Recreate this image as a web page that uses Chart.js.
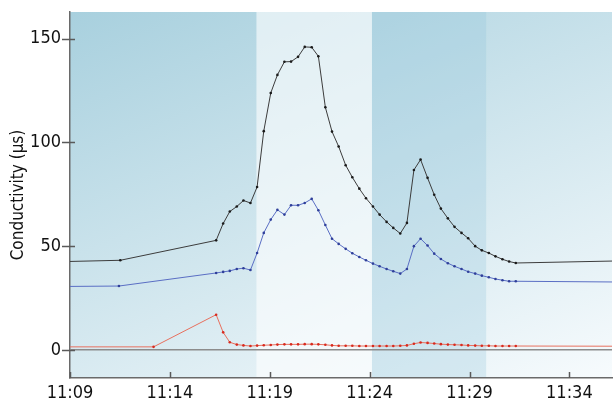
<!DOCTYPE html>
<html><head><meta charset="utf-8">
<script src="https://cdn.jsdelivr.net/npm/chart.js@4.4.1/dist/chart.umd.min.js"></script>
<style>html,body{margin:0;padding:0;background:#fff}canvas{display:block}</style>
</head><body>
<canvas id="c" width="616" height="405"></canvas>
<script>
// ---- data ----
const sampleTimes = ['11:16:19','11:16:40','11:17:00','11:17:21','11:17:41','11:18:02','11:18:22','11:18:42','11:19:03','11:19:23','11:19:44','11:20:04','11:20:25','11:20:45','11:21:06','11:21:26','11:21:47','11:22:07','11:22:27','11:22:48','11:23:08','11:23:29','11:23:49','11:24:10','11:24:30','11:24:51','11:25:11','11:25:32','11:25:52','11:26:13','11:26:33','11:26:54','11:27:14','11:27:34','11:27:55','11:28:15','11:28:36','11:28:56','11:29:17','11:29:37','11:29:58','11:30:18','11:30:39','11:30:59','11:31:19'];
const blackTimes = ['11:08:50','11:11:31'].concat(sampleTimes, ['11:37:00']);
const blackValues = [42.6, 43.2, 52.8, 60.9, 66.7, 69.1, 72.0, 70.8, 78.5, 105.4, 123.8, 132.5, 138.8, 138.9, 141.2, 146.0, 145.8, 141.5, 116.9, 105.2, 98.0, 89.0, 83.2, 77.7, 73.1, 69.1, 65.2, 61.7, 58.8, 56.1, 61.2, 86.7, 91.7, 82.9, 74.8, 68.1, 63.4, 59.3, 56.4, 53.8, 50.0, 48.0, 46.7, 45.1, 43.7, 42.6, 41.9, 43.0];
const blueTimes = ['11:08:50','11:11:27'].concat(sampleTimes, ['11:37:00']);
const blueValues = [30.6, 30.8, 37.1, 37.6, 38.1, 39.0, 39.4, 38.5, 46.7, 56.4, 62.8, 67.5, 65.2, 69.7, 69.7, 70.8, 72.8, 67.3, 60.2, 53.6, 51.1, 48.7, 46.6, 44.8, 43.2, 41.6, 40.3, 39.0, 37.9, 36.8, 39.0, 50.0, 53.6, 50.3, 46.4, 43.8, 41.8, 40.3, 39.0, 37.7, 36.8, 35.8, 35.0, 34.2, 33.6, 33.1, 33.1, 32.7];
const redTimes = ['11:08:50','11:13:11'].concat(sampleTimes, ['11:37:00']);
const redValues = [1.5, 1.5, 17.0, 8.5, 3.7, 2.6, 2.2, 1.9, 2.1, 2.3, 2.4, 2.6, 2.7, 2.7, 2.7, 2.8, 2.8, 2.7, 2.5, 2.2, 2.0, 2.0, 2.0, 1.9, 1.9, 1.9, 1.9, 1.9, 1.9, 2.0, 2.2, 3.0, 3.6, 3.4, 3.1, 2.8, 2.6, 2.5, 2.4, 2.2, 2.1, 2.0, 2.0, 1.9, 1.9, 1.9, 1.9, 1.8];
const xTickLabels = ['11:09','11:14','11:19','11:24','11:29','11:34'];
const yTickValues = [0, 50, 100, 150];
const bandEdges = ['11:18:20','11:24:07','11:29:50'];
const xRange = ['11:09:00','11:36:08'];
const yRange = [-13.5, 162.8];

// ---- helpers ----
function toMin(s){const p=s.split(':').map(Number);return (p[0]-11)*60+p[1]+(p[2]||0)/60;}
function pts(times, vals){return times.map((t,i)=>({x:toMin(t), y:vals[i]}));}

const FONT = "'DejaVu Sans Condensed','DejaVu Sans',sans-serif";

const bgPlugin = {
  id:'bg',
  beforeDraw(chart){
    const {ctx, chartArea:a, scales:{x}} = chart;
    const W=a.right-a.left, H=a.bottom-a.top, al=0.38, be=0.62;
    const D = 1/(al*al/(W*W)+be*be/(H*H));
    const g = ctx.createLinearGradient(a.left, a.top, a.left+al*D/W, a.top+be*D/H);
    g.addColorStop(0,'#a8d0de'); g.addColorStop(1,'#f7fbfd');
    ctx.save();
    ctx.fillStyle=g; ctx.fillRect(a.left,a.top,W,H);
    const e = bandEdges.map(t=>x.getPixelForValue(toMin(t)));
    ctx.fillStyle='rgba(255,255,255,0.6)'; ctx.fillRect(e[0],a.top,e[1]-e[0],H);
    ctx.fillStyle='rgba(140,195,215,0.26)'; ctx.fillRect(e[1],a.top,e[2]-e[1],H);
    ctx.restore();
  },
  afterDraw(chart){
    const {ctx, chartArea:a, scales:{x,y}} = chart;
    ctx.save();
    ctx.strokeStyle='#5a5a5a'; ctx.lineWidth=1.5;
    ctx.beginPath();
    y.ticks.forEach(t=>{const py=Math.round(y.getPixelForValue(t.value))+0.5; ctx.moveTo(a.left-8,py); ctx.lineTo(a.left+5,py);});
    x.ticks.forEach(t=>{const px=Math.round(x.getPixelForValue(t.value))+0.5; ctx.moveTo(px,a.bottom); ctx.lineTo(px,a.bottom-6);});
    ctx.stroke();
    ctx.restore();
  }
};

new Chart(document.getElementById('c'), {
  type:'line',
  data:{datasets:[
    {label:'Total', data:pts(blackTimes,blackValues), borderColor:'#3c3c3c', borderWidth:1, pointRadius:1.3, pointBackgroundColor:'#1a1a1a', pointBorderWidth:0, tension:0},
    {label:'Ch2', data:pts(blueTimes,blueValues), borderColor:'#5a6ec4', borderWidth:1, pointRadius:1.3, pointBackgroundColor:'#2f3f9a', pointBorderWidth:0, tension:0},
    {label:'Ch3', data:pts(redTimes,redValues), borderColor:'#e8705e', borderWidth:1, pointRadius:1.3, pointBackgroundColor:'#d82a1e', pointBorderWidth:0, tension:0}
  ]},
  options:{
    responsive:false, animation:false, events:[],
    layout:{padding:{top:12,right:0,left:0,bottom:0}},
    plugins:{legend:{display:false}, tooltip:{enabled:false}},
    scales:{
      x:{type:'linear', min:toMin(xRange[0]), max:toMin(xRange[1]),
        afterBuildTicks:s=>{s.ticks=xTickLabels.map(l=>({value:toMin(l)}));},
        afterFit:s=>{s.height=27; s.paddingRight=0;},
        grid:{display:false, drawTicks:false},
        border:{display:true, color:'#6a6a6a', width:1.5},
        ticks:{autoSkip:false, maxRotation:0, padding:5, color:'#111', font:{family:FONT,size:18},
          callback:(v)=>{const i=xTickLabels.findIndex(l=>Math.abs(toMin(l)-v)<1e-6);return i>=0?xTickLabels[i]:'';}}
      },
      y:{type:'linear', min:yRange[0], max:yRange[1],
        afterBuildTicks:s=>{s.ticks=yTickValues.map(v=>({value:v}));},
        afterFit:s=>{s.width=70; s.paddingTop=0; s.paddingBottom=0;},
        grid:{drawTicks:false, lineWidth:1.5, color:c=>c.tick&&c.tick.value===0?'#8c8c8c':'rgba(0,0,0,0)'},
        border:{display:true, color:'#6a6a6a', width:1.5},
        ticks:{padding:9, color:'#111', font:{family:FONT,size:18}},
        title:{display:true, text:'Conductivity (µs)', color:'#111', font:{family:FONT,size:17,lineHeight:2.2}, padding:0}
      }
    }
  },
  plugins:[bgPlugin]
});
</script>
</body></html>
